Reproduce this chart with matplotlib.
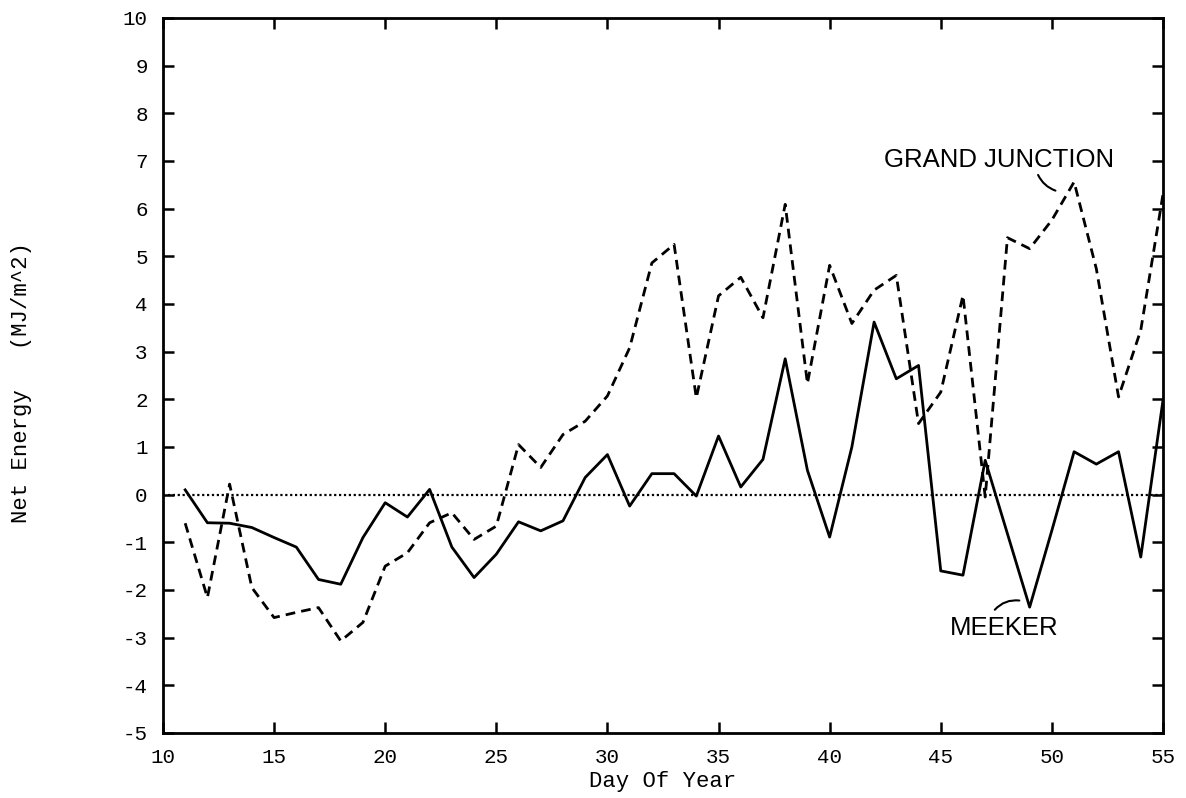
import matplotlib
matplotlib.use("Agg")
import matplotlib.pyplot as plt

plt.rcParams["axes.unicode_minus"] = False

# day of year 11..55
days = list(range(11, 56))

meeker = [0.1, -0.59, -0.6, -0.69, -0.9, -1.1, -1.78, -1.88, -0.9, -0.17,
          -0.47, 0.11, -1.1, -1.74, -1.25, -0.57, -0.76, -0.55, 0.36, 0.84,
          -0.24, 0.44, 0.44, -0.03, 1.23, 0.16, 0.74, 2.85, 0.51, -0.89,
          1.0, 3.62, 2.43, 2.71, -1.6, -1.69, 0.72, -0.82, -2.36, -0.75,
          0.9, 0.64, 0.9, -1.31, 1.98]

grand_junction = [-0.6, -2.16, 0.22, -1.95, -2.58, -2.47, -2.37, -3.07, -2.68, -1.5,
                  -1.22, -0.59, -0.38, -0.94, -0.66, 1.05, 0.57, 1.26, 1.54, 2.07,
                  3.08, 4.86, 5.25, 2.03, 4.17, 4.56, 3.71, 6.09, 2.33, 4.81,
                  3.59, 4.29, 4.6, 1.49, 2.15, 4.18, -0.05, 5.39, 5.16, 5.76,
                  6.56, 4.74, 2.05, 3.45, 6.3]

xticks = [10, 15, 20, 25, 30, 35, 40, 45, 50, 55]
yticks = list(range(-5, 11))

mono = "Liberation Mono"
sans = "Liberation Sans"

fig = plt.figure(figsize=(11.86, 7.98), dpi=100)
ax = fig.add_axes([0.1374, 0.0815, 0.8432, 0.896])

ax.axhline(0, color="black", lw=1.6, ls=(0, (1, 1.2)))
ax.plot(days, meeker, color="black", lw=2)
ax.plot(days, grand_junction, color="black", lw=2, ls=(0, (3.5, 2.2)))

ax.set_xlim(10, 55)
ax.set_ylim(-5, 10)
ax.set_xticks(xticks)
ax.set_yticks(yticks)
ax.tick_params(direction="in", length=8, width=1.8, top=True, right=True,
               labeltop=False, labelright=False, pad=11, labelsize=15)
for lab in ax.get_xticklabels() + ax.get_yticklabels():
    lab.set_fontfamily(mono)
for sp in ax.spines.values():
    sp.set_linewidth(2)

ax.set_xlabel("Day Of Year", fontfamily=mono, fontsize=16, labelpad=3)
ax.set_ylabel("Net Energy   (MJ/m^2)", fontfamily=mono, fontsize=16)
ax.yaxis.set_label_coords(-0.131, 0.49)

ax.text(47.62, 7.03, "GRAND JUNCTION", fontfamily=sans, fontsize=18.5,
        ha="center", va="center")
ax.annotate("", xy=(50.28, 6.36), xytext=(49.33, 6.76),
            arrowprops=dict(arrowstyle="-", lw=1.5, color="black",
                            connectionstyle="arc3,rad=0.25"))

ax.text(47.85, -2.80, "MEEKER", fontfamily=sans, fontsize=18.5,
        ha="center", va="center")
ax.annotate("", xy=(48.66, -2.23), xytext=(47.35, -2.46),
            arrowprops=dict(arrowstyle="-", lw=1.5, color="black",
                            connectionstyle="arc3,rad=-0.3"))

fig.savefig("out.png", dpi=100)
